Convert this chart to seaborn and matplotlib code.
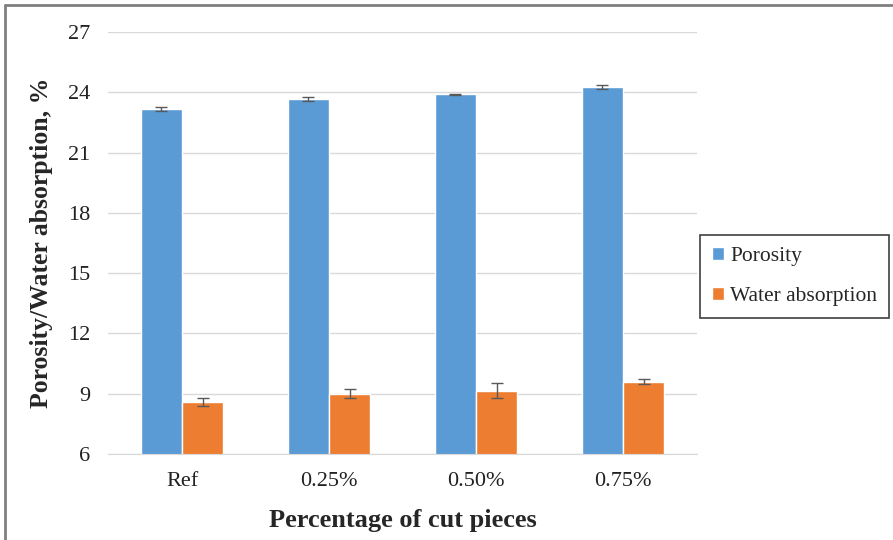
import pandas as pd
from matplotlib import pyplot as plt
from matplotlib.lines import Line2D
import numpy as np
import seaborn as sns

categories = ["Ref", "0.25%", "0.50%", "0.75%"]
porosity = [23.17, 23.66, 23.90, 24.25]
porosity_err = [0.10, 0.12, 0.03, 0.10]
water = [8.60, 9.01, 9.15, 9.60]
water_err = [0.21, 0.23, 0.38, 0.12]

data = pd.DataFrame({
    "Category": categories * 2,
    "Value": porosity + water,
    "Err": porosity_err + water_err,
    "Series": ["Porosity"] * 4 + ["Water absorption"] * 4,
})

sns.set_style("white")
plt.rcParams['font.family'] = ['Liberation Serif', 'DejaVu Serif']

fig = plt.figure(figsize=(8.93, 5.40), dpi=100)
ax = fig.add_axes([0.1215, 0.159, 0.6585, 0.782])

sns.barplot(data=data, x="Category", y="Value", hue="Series",
            palette=["#5B9BD5", "#ED7D31"], width=0.56, errorbar=None,
            saturation=1, ax=ax, zorder=2)
ax.set_xlim(-0.5, len(categories) - 0.5)

# error bars on top of the drawn bars
bars = [p for p in ax.patches if p.get_height() > 0][:8]
for p, e in zip(bars, data["Err"]):
    ax.errorbar(p.get_x() + p.get_width() / 2, p.get_height(), yerr=e,
                fmt="none", ecolor="#595959", elinewidth=1, capsize=4,
                capthick=1, zorder=3)

ax.set_ylim(6, 27)
ax.set_yticks(np.arange(6, 28, 3))
ax.grid(axis="y", color="#D9D9D9", linewidth=1, zorder=0)
ax.set_axisbelow(True)
for s in ["left", "right", "top"]:
    ax.spines[s].set_visible(False)
ax.spines["bottom"].set_color("#D9D9D9")
ax.tick_params(axis="both", length=0, labelsize=16, colors="#222222")
ax.tick_params(axis="y", pad=13)
ax.tick_params(axis="x", pad=13)

ax.set_xlabel("Percentage of cut pieces", fontsize=19, fontweight="bold", labelpad=13)
ax.set_ylabel("Porosity/Water absorption, %", fontsize=18.5, fontweight="bold", labelpad=11)

handles, labels = ax.get_legend_handles_labels()
leg = ax.legend(handles, labels, loc="upper left", bbox_to_anchor=(0.784, 0.565),
                bbox_transform=fig.transFigure, fontsize=15.5, frameon=True,
                edgecolor="#404040", fancybox=False, handlelength=0.55,
                handleheight=0.55, handletextpad=0.3, labelspacing=1.0,
                borderpad=0.55, borderaxespad=0, framealpha=1)
leg.get_frame().set_linewidth(1.2)

# border on the top and left of the picture
fig.add_artist(Line2D([0.006, 1], [0.991, 0.991], color="#808080", linewidth=2,
                      transform=fig.transFigure))
fig.add_artist(Line2D([0.006, 0.006], [0, 0.991], color="#808080", linewidth=2,
                      transform=fig.transFigure))

fig.savefig("out.png", dpi=100)
